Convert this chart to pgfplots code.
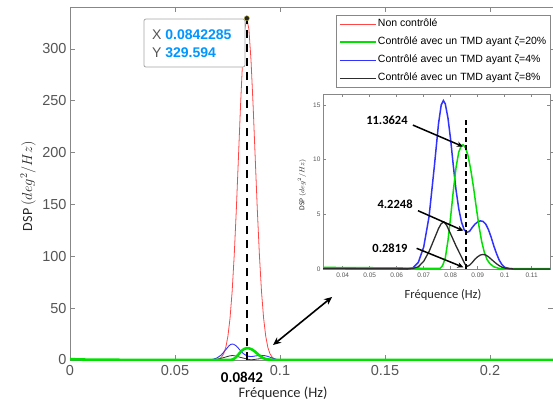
\documentclass[border=0pt]{standalone}
\usepackage{fontspec}
\setmainfont{Liberation Sans}
\newfontfamily\carlito{Carlito}
\usepackage{pgfplots}
\pgfplotsset{compat=1.18}
\usepackage{pgfplotstable}
\usetikzlibrary{arrows.meta}
\definecolor{cred}{RGB}{255,70,70}
\definecolor{cgreen}{RGB}{0,225,0}
\definecolor{cblue}{RGB}{50,50,255}
\definecolor{cblack}{RGB}{45,45,45}
\definecolor{axgray}{RGB}{135,135,135}
\definecolor{tickgray}{RGB}{85,85,85}
\definecolor{tipblue}{RGB}{0,150,255}

\pgfplotstableread{
f v
0 0.6
0.01 0.3
0.03 0.15
0.05 0.1
0.065 0.2
0.0702 0.5
0.0712 1.3
0.0722 2.9
0.0732 6.2
0.0742 12.3
0.0752 23.0
0.0762 40.2
0.0772 65.8
0.0782 101.0
0.0792 144.9
0.0802 194.8
0.0812 245.2
0.0822 289.0
0.0832 318.9
0.0842 329.6
0.0852 318.9
0.0862 289.0
0.0872 245.2
0.0882 194.8
0.0892 144.9
0.0902 101.0
0.0912 65.8
0.0922 40.2
0.0932 23.0
0.0942 12.3
0.0952 6.2
0.0962 2.9
0.0972 1.3
0.0982 0.5
0.1 0.3
0.12 0.1
0.15 0.05
0.23 0.02
}\redtab

\pgfplotstableread{
f v
0 0.8
0.01 0.3
0.03 0.15
0.06 0.1
0.074 0.05
0.0760 0.05
0.0770 0.3
0.0780 1.0
0.0790 2.6
0.0800 4.8
0.0810 7.2
0.0820 9.3
0.0830 10.7
0.0840 11.3
0.0846 11.36
0.0855 11.1
0.0865 10.3
0.0875 9.0
0.0885 7.4
0.0895 5.6
0.0905 3.9
0.0915 2.5
0.0925 1.5
0.0935 0.85
0.0945 0.5
0.0960 0.2
0.0980 0.05
0.1 0.03
0.13 0.03
0.23 0.02
}\greentab

\pgfplotstableread{
f v
0 0.5
0.01 0.2
0.03 0.1
0.06 0.05
0.064 0.02
0.066 0.1
0.068 0.6
0.070 2.0
0.072 4.8
0.074 9.5
0.0755 13.3
0.0765 15.0
0.0773 15.4
0.078 15.1
0.079 13.8
0.080 11.8
0.081 9.4
0.082 7.2
0.083 5.5
0.084 4.3
0.085 3.6
0.086 3.35
0.087 3.45
0.088 3.8
0.089 4.1
0.090 4.3
0.091 4.4
0.092 4.35
0.093 4.1
0.094 3.6
0.095 2.9
0.096 2.1
0.097 1.4
0.098 0.8
0.099 0.4
0.100 0.15
0.102 0.03
0.104 0.01
0.15 0.01
0.23 0.01
}\bluetab

\pgfplotstableread{
f v
0 0.3
0.03 0.05
0.064 0.01
0.066 0.05
0.068 0.2
0.070 0.7
0.072 1.6
0.074 2.8
0.0755 3.7
0.0765 4.15
0.0775 4.3
0.0785 4.0
0.080 3.2
0.082 2.1
0.084 1.1
0.0853 0.45
0.0862 0.25
0.087 0.35
0.088 0.6
0.089 0.9
0.090 1.12
0.091 1.28
0.092 1.33
0.093 1.28
0.094 1.12
0.095 0.9
0.096 0.68
0.097 0.48
0.098 0.3
0.099 0.17
0.100 0.09
0.102 0.02
0.104 0.0
0.23 0.0
}\blacktab

\begin{document}
\begin{tikzpicture}
\begin{axis}[
  at={(0pt,0pt)}, anchor=south west,
  scale only axis, width=483pt, height=353pt,
  xmin=0, xmax=0.23, ymin=0, ymax=340.5,
  clip mode=individual,
  axis line style={axgray, line width=0.9pt},
  tick style={axgray, line width=0.8pt},
  major tick length=5pt,
  xtick={0,0.05,0.1,0.15,0.2},
  xticklabels={0,0.05,0.1,0.15,0.2},
  ytick={0,50,100,150,200,250,300},
  /pgf/number format/assume math mode=true,
  tick label style={font=\fontsize{14.5}{16}\selectfont, text=tickgray},
  xticklabel style={yshift=-2pt},
  xlabel={Fréquence (Hz)},
  xlabel style={at={(axis description cs:0.441,-0.0935)}, anchor=center, font=\carlito\fontsize{14.5}{16}\selectfont, text=black!85},
  ylabel={DSP $(deg^2/Hz)$},
  ylabel style={at={(axis description cs:-0.087,0.493)}, anchor=center, font=\carlito\fontsize{14}{16}\selectfont, text=black!85},
  legend style={at={(0.9938,0.9773)}, anchor=north east, draw=axgray, fill=white,
    font=\fontsize{10.5}{12}\selectfont, inner sep=2.5pt, row sep=5.5pt,
    nodes={inner sep=1pt, text height=8pt, text depth=2.5pt}},
  legend cell align=left,
  legend image code/.code={\draw[#1] (0pt,0pt) -- (36pt,0pt);},
]
\addplot[cred, line width=0.8pt, forget plot] table {\redtab};
\addplot[cblue, line width=0.9pt, forget plot] table {\bluetab};
\addplot[cblack, line width=0.8pt, forget plot] table {\blacktab};
\addplot[cgreen, line width=2.6pt, forget plot] table {\greentab};
\addplot[black, line width=2.2pt, dash pattern=on 8pt off 6pt, forget plot] coordinates {(0.0842,0) (0.0842,329.594)};
\addplot[only marks, mark=*, mark size=2.6pt, mark options={fill=black!85, draw=yellow!70!black}, forget plot] coordinates {(0.0842,329.594)};

\addlegendimage{cred, line width=0.8pt}\addlegendentry{Non contrôlé}
\addlegendimage{cgreen, line width=2.2pt}\addlegendentry{Contrôlé avec un TMD ayant ζ=20\%}
\addlegendimage{cblue, line width=0.9pt}\addlegendentry{Contrôlé avec un TMD ayant ζ=4\%}
\addlegendimage{cblack, line width=0.8pt}\addlegendentry{Contrôlé avec un TMD ayant ζ=8\%}

\draw[rounded corners=2pt, draw=black!35, fill=white, line width=0.8pt] (axis cs:0.0352,328.9) rectangle (axis cs:0.0833,282.6);
\node[anchor=west, inner sep=0pt, font=\fontsize{14}{16}\selectfont] at (axis cs:0.039,313.5) {\textcolor{tickgray}{X} \textcolor{tipblue}{\bfseries 0.0842285}};
\node[anchor=west, inner sep=0pt, font=\fontsize{14}{16}\selectfont] at (axis cs:0.039,296.1) {\textcolor{tickgray}{Y} \textcolor{tipblue}{\bfseries 329.594}};

\node[anchor=center, inner sep=0pt, font=\carlito\bfseries\fontsize{15}{17}\selectfont] at (axis cs:0.0819,0) [yshift=-17pt] {0.0842};

\draw[{Stealth[length=8pt,width=7pt]}-{Stealth[length=8pt,width=7pt]}, line width=1.6pt] (axis cs:0.0967,14.5) -- (axis cs:0.1248,60.8);
\end{axis}

\begin{axis}[
  at={(253pt,91pt)}, anchor=south west,
  scale only axis, width=227pt, height=175pt,
  xmin=0.0327, xmax=0.1168, ymin=0, ymax=16,
  clip mode=individual,
  axis background/.style={fill=white},
  axis line style={axgray, line width=0.6pt},
  tick style={axgray, line width=0.5pt},
  major tick length=3pt,
  xtick={0.04,0.05,0.06,0.07,0.08,0.09,0.1,0.11},
  xticklabels={0.04,0.05,0.06,0.07,0.08,0.09,0.1,0.11},
  ytick={0,5,10,15},
  /pgf/number format/assume math mode=true,
  tick label style={font=\fontsize{6.5}{7.5}\selectfont, text=tickgray},
  yticklabel style={xshift=1pt},
  xlabel={Fréquence (Hz)},
  xlabel style={at={(axis description cs:0.529,-0.149)}, anchor=center, font=\carlito\fontsize{12.5}{14}\selectfont, text=black!85},
  ylabel={DSP $(deg^2/Hz)$},
  ylabel style={at={(axis description cs:-0.0925,0.48)}, anchor=center, font=\carlito\fontsize{7.5}{9}\selectfont, text=black!85},
]
\addplot[cblue, line width=1.5pt] table {\bluetab};
\addplot[cgreen, line width=1.5pt] table {\greentab};
\addplot[cblack, line width=1.3pt] table {\blacktab};
\addplot[black, line width=1.4pt, dash pattern=on 5pt off 3.5pt] coordinates {(0.0857,0) (0.0857,13.6)};

\node[font=\carlito\bfseries\fontsize{12.5}{14}\selectfont, inner sep=0pt] at (axis cs:0.0564,13.62) {11.3624};
\node[font=\carlito\bfseries\fontsize{12.5}{14}\selectfont, inner sep=0pt] at (axis cs:0.0594,5.94) {4.2248};
\node[font=\carlito\bfseries\fontsize{12.5}{14}\selectfont, inner sep=0pt] at (axis cs:0.0575,1.92) {0.2819};
\draw[-{Stealth[length=6pt,width=5.5pt]}, line width=1.5pt] (axis cs:0.0660,13.16) -- (axis cs:0.0845,11.2);
\draw[-{Stealth[length=6pt,width=5.5pt]}, line width=1.5pt] (axis cs:0.0679,5.33) -- (axis cs:0.0847,3.5);
\draw[-{Stealth[length=6pt,width=5.5pt]}, line width=1.5pt] (axis cs:0.0674,1.89) -- (axis cs:0.0847,0.16);
\end{axis}
\pgfresetboundingbox
\path[use as bounding box] (-70pt,-45pt) rectangle (483pt,360pt);
\end{tikzpicture}
\end{document}
